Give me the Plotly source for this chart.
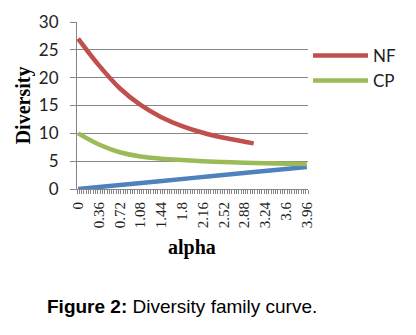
import plotly.graph_objects as go

# ---- data ----
nf_alpha = [0, 0.36, 0.72, 1.08, 1.44, 1.8, 2.16, 2.52, 2.88, 3.04]
nf_vals = [27.0, 22.2, 18.1, 15.1, 12.9, 11.3, 10.1, 9.2, 8.5, 8.2]

cp_alpha = [0, 0.36, 0.72, 1.08, 1.44, 1.8, 2.16, 2.52, 2.88, 3.24, 3.6, 3.96]
cp_vals = [10.0, 8.0, 6.6, 5.85, 5.45, 5.2, 5.0, 4.85, 4.72, 4.62, 4.55, 4.5]

base_alpha = [0, 1.0, 2.0, 3.0, 3.96]
base_vals = [0.0, 1.0, 2.0, 3.0, 3.95]

tick_vals = [0, 0.36, 0.72, 1.08, 1.44, 1.8, 2.16, 2.52, 2.88, 3.24, 3.6, 3.96]
tick_text = ["0", "0.36", "0.72", "1.08", "1.44", "1.8", "2.16", "2.52", "2.88", "3.24", "3.6", "3.96"]

GRID = "#868686"

fig = go.Figure()
fig.add_trace(go.Scatter(x=base_alpha, y=base_vals, mode="lines", name="",
                         line=dict(color="#4F81BD", width=4.5, shape="spline"),
                         showlegend=False))
fig.add_trace(go.Scatter(x=nf_alpha, y=nf_vals, mode="lines", name="NF",
                         line=dict(color="#C0504D", width=4.5, shape="spline")))
fig.add_trace(go.Scatter(x=cp_alpha, y=cp_vals, mode="lines", name="CP",
                         line=dict(color="#9BBB59", width=4.5, shape="spline")))

fig.update_layout(
    width=416, height=335,
    margin=dict(l=77, r=108, t=22, b=146),
    paper_bgcolor="white", plot_bgcolor="white",
    showlegend=True,
    legend=dict(x=1.0, y=0.905, xanchor="left", yanchor="top",
                font=dict(family="Lato, Liberation Sans", size=17, color="#222"),
                itemwidth=55, bgcolor="rgba(0,0,0,0)", tracegroupgap=0),
    xaxis=dict(range=[-0.02, 3.98], showgrid=False, zeroline=False,
               showline=True, linecolor=GRID, linewidth=1,
               tickmode="array", tickvals=tick_vals, ticktext=tick_text,
               tickangle=-90, ticks="", ticklabelstandoff=6,
               tickfont=dict(family="Liberation Serif, Times New Roman", size=15, color="#222"),
               minor=dict(tickmode="linear", tick0=-0.02, dtick=0.04,
                          ticks="outside", ticklen=4, tickcolor=GRID, showgrid=False)),
    yaxis=dict(range=[0, 30], tickvals=[0, 5, 10, 15, 20, 25, 30],
               showgrid=True, gridcolor=GRID, gridwidth=1, zeroline=False,
               showline=True, linecolor=GRID, linewidth=1,
               ticks="outside", ticklen=6, tickcolor=GRID, ticklabelstandoff=8,
               tickfont=dict(family="Lato, Liberation Sans", size=17, color="#222")),
    annotations=[
        dict(text="<b>Diversity</b>", xref="paper", yref="paper", x=-0.228, y=0.503,
             xanchor="center", yanchor="middle", textangle=-90, showarrow=False,
             font=dict(family="Liberation Serif, Times New Roman", size=20, color="black")),
        dict(text="<b>alpha</b>", xref="paper", yref="paper", x=0.497, y=-0.35,
             xanchor="center", yanchor="middle", showarrow=False,
             font=dict(family="Liberation Serif, Times New Roman", size=20, color="black")),
        dict(text="<b>Figure 2:</b> Diversity family curve.", xref="paper", yref="paper",
             x=-0.137, y=-0.702, xanchor="left", yanchor="middle", showarrow=False,
             font=dict(family="Liberation Sans Narrow, Liberation Sans", size=19, color="black")),
    ],
)

fig.write_html("out.html")
